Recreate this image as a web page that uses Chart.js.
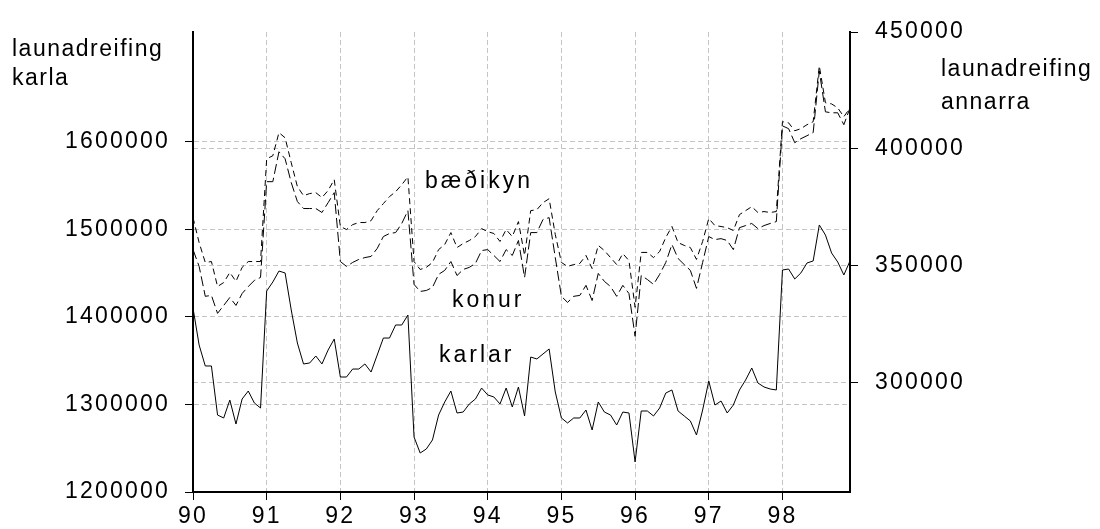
<!DOCTYPE html>
<html>
<head>
<meta charset="utf-8">
<script src="https://cdn.jsdelivr.net/npm/chart.js@4/dist/chart.umd.min.js"></script>
<style>
  html, body { margin: 0; background: #fff; }
  #wrap { width: 1100px; height: 529px; }
</style>
</head>
<body>
<div id="wrap"><canvas id="c" width="1100" height="529"></canvas></div>
<script>
// mánaðarleg gögn, jan 1990 - des 1998
var firstYear = 90;
var yearTicks = [90, 91, 92, 93, 94, 95, 96, 97, 98];
var leftTicks = [1200000, 1300000, 1400000, 1500000, 1600000];
var rightTicks = [300000, 350000, 400000, 450000];

var karlar = [
  1410100,1367800,1343900,1343900,1287900,1284500,1305000,1277600,1306200,1315300,1301600,1295900,
  1429500,1439800,1452300,1450100,1407800,1370100,1346200,1347300,1355300,1346200,1362100,1374700,
  1331300,1331300,1340400,1340400,1346200,1337000,1356400,1375800,1375800,1390700,1390700,1402100,
  1262800,1244500,1249100,1259400,1287900,1302800,1315300,1290200,1291300,1300500,1306200,1318700,
  1310800,1308500,1300500,1318700,1297100,1319900,1286800,1354100,1351900,1357600,1363300,1314200,
  1284500,1278800,1284500,1284500,1293600,1270800,1302800,1291300,1287900,1276500,1291300,1290200,
  1234300,1292500,1292500,1286800,1295900,1313000,1316500,1292500,1286800,1281100,1265100,1293600,
  1326700,1299300,1303900,1290200,1299300,1316500,1327900,1341600,1324500,1319900,1317600,1316500,
  1453500,1454600,1443200,1450100,1461500,1463800,1504900,1493400,1472900,1462600,1447800,1463800
];
var konur = [
  356800,349600,336800,337200,329500,332900,336300,332900,338000,341000,343600,344900,
  385900,385900,398700,395700,385500,377400,374400,374400,374400,372700,376900,381200,
  351700,349600,351300,352600,353400,353900,357300,362400,363700,364100,368000,373500,
  341900,338900,339300,340600,346200,347900,351700,345700,348300,349200,350900,356400,
  356800,354300,351700,356800,354300,360700,344900,364100,364100,369700,370500,353400,
  336800,334200,336800,337200,341500,335000,346600,343200,341000,336800,341500,338000,
  319700,345700,344000,341900,346200,351300,359000,353000,350400,347900,340200,351300,
  362400,361100,361500,360700,356800,366200,367100,368000,365800,367100,368000,368800,
  409800,408600,402600,404300,405600,406900,433300,415800,415400,415400,410300,417500
];
var baediKyn = [
  370500,359800,351300,351700,341000,342700,347000,343200,349200,351700,351700,351700,
  395700,397000,406900,404700,394000,383800,379900,380800,381200,379100,382100,386800,
  366700,365400,367500,368400,368400,369200,373500,376500,379500,381600,384600,388000,
  351700,348300,349200,351300,356800,359000,364100,357700,359400,360700,362400,365800,
  364500,363700,360300,365400,362400,368800,354300,373500,373900,376900,378600,363300,
  351300,349600,350400,350900,354300,348700,358600,356400,353400,350400,355100,352100,
  332100,355600,355600,353400,356000,362000,366700,359800,358600,357700,352600,360300,
  370100,367100,366700,366200,365000,371800,373500,375200,372700,373100,372700,373100,
  411600,411100,407700,408600,410300,411600,435500,419700,419200,417500,413700,417500
];

function toPoints(arr) {
  return arr.map(function(v, i){ return {x: firstYear + i/12, y: v}; });
}

var FONT = '"Liberation Sans", Arial, sans-serif';
var GRID = '#c4c4c4';
Chart.defaults.font.family = FONT;
Chart.defaults.color = '#000';

function setTicks(list) {
  return function(scale){ scale.ticks = list.map(function(v){ return {value: v}; }); };
}

var textPlugin = {
  id: 'texts',
  beforeDraw: function(chart){ chart.ctx.letterSpacing = '2.2px'; },
  afterDraw: function(chart){
    var ctx = chart.ctx;
    ctx.save();
    ctx.fillStyle = '#000';
    ctx.font = '23px ' + FONT;
    ctx.textAlign = 'left';
    ctx.textBaseline = 'alphabetic';
    ctx.letterSpacing = '1.5px';
    ctx.fillText('launadreifing', 12, 56);
    ctx.fillText('karla', 12, 85);
    ctx.fillText('launadreifing', 941, 76);
    ctx.fillText('annarra', 941, 109);
    ctx.letterSpacing = '3px';
    ctx.fillText('bæðikyn', 425, 188);
    ctx.fillText('konur', 452, 307);
    ctx.fillText('karlar', 439, 362);
    ctx.restore();
  }
};

new Chart(document.getElementById('c'), {
  type: 'line',
  data: {
    datasets: [
      {label: 'karlar', data: toPoints(karlar), yAxisID: 'y', borderColor: '#000', borderWidth: 1},
      {label: 'konur', data: toPoints(konur), yAxisID: 'y1', borderColor: '#000', borderWidth: 1, borderDash: [10, 4]},
      {label: 'bæði kyn', data: toPoints(baediKyn), yAxisID: 'y1', borderColor: '#000', borderWidth: 1, borderDash: [6, 4]}
    ]
  },
  options: {
    responsive: false,
    animation: false,
    events: [],
    elements: {point: {radius: 0}, line: {tension: 0}},
    layout: {padding: {top: 32, left: 0, right: 0, bottom: 0}},
    plugins: {legend: {display: false}, tooltip: {enabled: false}},
    scales: {
      x: {
        type: 'linear', position: 'bottom',
        min: firstYear, max: firstYear + 107/12,
        afterBuildTicks: setTicks(yearTicks),
        afterFit: function(s){ s.height = 37; },
        ticks: {font: {size: 23}, padding: 3, maxRotation: 0, callback: function(v){ return String(v); }},
        grid: {
          color: function(c){ return c.tick && c.tick.value === firstYear ? 'rgba(0,0,0,0)' : GRID; },
          tickColor: '#000', tickLength: 8
        },
        border: {color: '#000', width: 2, dash: [5, 3]}
      },
      y: {
        position: 'left',
        min: 1200000, max: 1725240,
        afterBuildTicks: setTicks(leftTicks),
        afterFit: function(s){ s.width = 193; },
        ticks: {font: {size: 23}, padding: 15, callback: function(v){ return String(v); }},
        grid: {
          color: function(c){ return c.tick && c.tick.value === 1200000 ? 'rgba(0,0,0,0)' : GRID; },
          tickColor: '#000', tickLength: 8
        },
        border: {color: '#000', width: 2, dash: [5, 3]}
      },
      y1: {
        position: 'right',
        min: 253000, max: 450000,
        afterBuildTicks: setTicks(rightTicks),
        afterFit: function(s){ s.width = 250; },
        ticks: {font: {size: 23}, padding: 17, callback: function(v){ return String(v); }},
        grid: {
          color: function(c){ return c.tick && c.tick.value === 450000 ? 'rgba(0,0,0,0)' : GRID; },
          tickColor: '#000', tickLength: 8
        },
        border: {color: '#000', width: 2, dash: [5, 3]}
      }
    }
  },
  plugins: [textPlugin]
});
</script>
</body>
</html>
